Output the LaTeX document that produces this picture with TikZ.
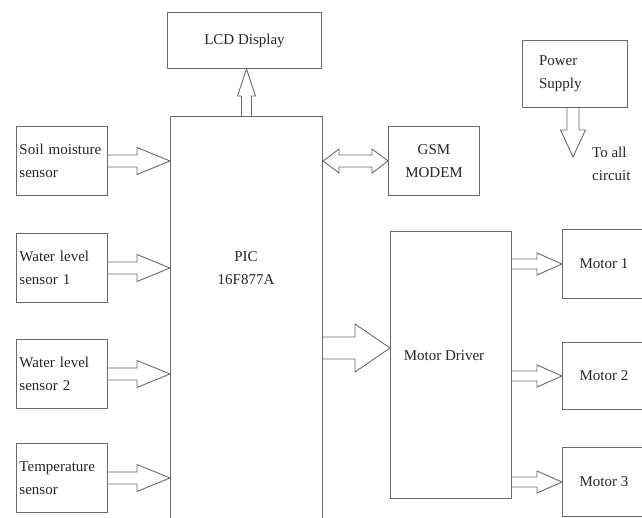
\documentclass[tikz,border=0pt]{standalone}
\usepackage{fontspec}
\setmainfont{Liberation Serif}
\usetikzlibrary{calc}
\definecolor{ln}{HTML}{6A6A6A}
\definecolor{tx}{HTML}{262626}
% horizontal block arrow (rightwards): from, to, shaft half width, head half width, head length
\newcommand\harr[5]{\draw[blk] let \p1=(#1), \p2=(#2) in
  (\x1,\y1+#3) -- (\x2-#5,\y1+#3) -- (\x2-#5,\y1+#4) -- (\x2,\y1)
  -- (\x2-#5,\y1-#4) -- (\x2-#5,\y1-#3) -- (\x1,\y1-#3);}
% double horizontal block arrow
\newcommand\dharr[5]{\draw[blk] let \p1=(#1), \p2=(#2) in
  (\x1+#5,\y1+#3) -- (\x2-#5,\y1+#3) -- (\x2-#5,\y1+#4) -- (\x2,\y1)
  -- (\x2-#5,\y1-#4) -- (\x2-#5,\y1-#3) -- (\x1+#5,\y1-#3)
  -- (\x1+#5,\y1-#4) -- (\x1,\y1) -- (\x1+#5,\y1+#4) -- cycle;}
% vertical block arrow: from, to, shaft hw, head hw, signed head length (positive = upwards)
\newcommand\varr[5]{\draw[blk] let \p1=(#1), \p2=(#2) in
  (\x1-#3,\y1) -- (\x1-#3,\y2-#5) -- (\x1-#4,\y2-#5) -- (\x1,\y2)
  -- (\x1+#4,\y2-#5) -- (\x1+#3,\y2-#5) -- (\x1+#3,\y1);}
\begin{document}
\begin{tikzpicture}[x=1pt,y=-1pt,
  font=\fontsize{15}{23}\selectfont,
  box/.style={draw=ln, line width=1pt, inner sep=0pt, anchor=north west, text=tx},
  sens/.style={box, minimum width=91pt, minimum height=69pt, text width=85pt, align=left},
  motor/.style={box, minimum width=83pt, minimum height=69pt},
  blk/.style={draw=ln, line width=0.9pt, line join=miter}]
\useasboundingbox (0,0) rectangle (642,518);
\fill[white] (0,0) rectangle (642,518);

\node[box, minimum width=154pt, minimum height=56pt] (lcd) at (167,12) {LCD Display};
\node[box, minimum width=152pt, minimum height=420pt] (pic) at (170,116) {};
\node[text=tx, align=center] (pict) at (246,268) {PIC\\16F877A};

\node[sens] (soil) at (16,126) {Soil moisture\\sensor};
\node[sens] (wl1) at (16,233) {Water level\\sensor 1};
\node[sens] (wl2) at (16,339) {Water level\\sensor 2};
\node[sens] (temp) at (16,443) {Temperature\\sensor};

\node[box, minimum width=91pt, minimum height=69pt, align=center] (gsm) at (388,126) {GSM\\MODEM};
\node[box, minimum width=105pt, minimum height=67pt, text width=72pt, align=left] (pw) at (522,40) {Power\\Supply};
\node[text=tx, align=left, anchor=west, inner sep=0pt] (toall) at (592,164) {To all\\circuit};
\coordinate (pwtip) at (573,157);

\node[box, minimum width=121pt, minimum height=267pt] (md) at (390,231) {};
\node[text=tx] (mdt) at (444,356) {Motor Driver};
\coordinate (mdin) at (390,348);

\node[motor] (m1) at (562,229) {Motor 1};
\node[motor, minimum height=67pt] (m2) at (562,342) {Motor 2};
\node[motor] (m3) at (562,447) {Motor 3};

% arrows
\varr{pic.north}{lcd.south}{5pt}{9pt}{27pt}
\harr{soil.east}{soil.east -| pic.west}{6pt}{13.5pt}{33pt}
\harr{wl1.east}{wl1.east -| pic.west}{6pt}{13.5pt}{33pt}
\harr{wl2.east}{wl2.east -| pic.west}{6pt}{13.5pt}{33pt}
\harr{temp.east}{temp.east -| pic.west}{6pt}{13.5pt}{33pt}
\dharr{gsm.west -| pic.east}{gsm.west}{6pt}{12pt}{16pt}
\harr{mdin -| pic.east}{mdin}{11pt}{24pt}{35pt}
\harr{m1.west -| md.east}{m1.west}{5pt}{11pt}{25pt}
\harr{m2.west -| md.east}{m2.west}{5pt}{11pt}{25pt}
\harr{m3.west -| md.east}{m3.west}{5pt}{11pt}{25pt}
\varr{pwtip |- pw.south}{pwtip}{6pt}{12.5pt}{-27pt}
\end{tikzpicture}
\end{document}
